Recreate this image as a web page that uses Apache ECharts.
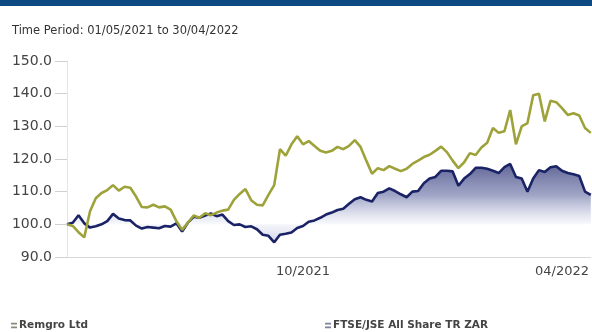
<!DOCTYPE html>
<html>
<head>
<meta charset="utf-8">
<script src="https://cdn.jsdelivr.net/npm/echarts@6/dist/echarts.min.js"></script>
<style>
html,body{margin:0;padding:0;background:#fff;}
#chart{width:592px;height:332px;}
</style>
</head>
<body>
<div id="chart"></div>
<script>
const titleText = 'Time Period: 01/05/2021 to 30/04/2022';
const seriesNames = ['Remgro Ltd', 'FTSE/JSE All Share TR ZAR'];
const yTicks = [90, 100, 110, 120, 130, 140, 150];
const xTickDates = ['2021-10-12', '2022-04-10'];
const xTickLabels = ['10/2021', '04/2022'];

const dates = [
'2021-05-01','2021-05-05','2021-05-09','2021-05-13','2021-05-17','2021-05-21','2021-05-25','2021-05-29',
'2021-06-02','2021-06-06','2021-06-10','2021-06-14','2021-06-18','2021-06-22','2021-06-26','2021-06-30',
'2021-07-04','2021-07-08','2021-07-12','2021-07-16','2021-07-20','2021-07-24','2021-07-28',
'2021-08-01','2021-08-05','2021-08-09','2021-08-13','2021-08-17','2021-08-21','2021-08-25','2021-08-29',
'2021-09-02','2021-09-06','2021-09-10','2021-09-14','2021-09-18','2021-09-22','2021-09-26','2021-09-30',
'2021-10-04','2021-10-08','2021-10-12','2021-10-16','2021-10-20','2021-10-24','2021-10-28',
'2021-11-01','2021-11-05','2021-11-09','2021-11-13','2021-11-17','2021-11-21','2021-11-25','2021-11-29',
'2021-12-03','2021-12-07','2021-12-11','2021-12-15','2021-12-19','2021-12-23','2021-12-27','2021-12-31',
'2022-01-04','2022-01-08','2022-01-12','2022-01-16','2022-01-20','2022-01-24','2022-01-28',
'2022-02-01','2022-02-05','2022-02-09','2022-02-13','2022-02-17','2022-02-21','2022-02-25',
'2022-03-01','2022-03-05','2022-03-09','2022-03-13','2022-03-17','2022-03-21','2022-03-25','2022-03-29',
'2022-04-02','2022-04-06','2022-04-10','2022-04-14','2022-04-18','2022-04-22','2022-04-26','2022-04-30'
];

const remgro = [
100, 99.5, 97.6, 96, 104, 108, 109.6, 110.5,
112, 110.3, 111.5, 111.2, 108.5, 105.3, 105.2, 106,
105.2, 105.5, 104.5, 101, 98.3, 100.5, 102.7,
102, 103.4, 102.8, 103.6, 104.2, 104.5, 107.5, 109.3,
110.8, 107.4, 106, 105.8, 109, 112, 123, 121,
124.5, 127, 124.5, 125.5, 124, 122.5, 122,
122.5, 123.7, 123, 124, 125.8, 123.7, 119.5, 115.5,
117.2, 116.6, 117.8, 117, 116.3, 117, 118.5, 119.5,
120.6, 121.3, 122.5, 123.8, 122.1, 119.5, 117.2,
119, 121.8, 121.2, 123.5, 125, 129.5, 128,
128.5, 135, 124.5, 130, 131, 139.5, 140, 131.5,
137.8, 137.4, 135.6, 133.5, 134, 133.3, 129.5, 128
];

const allShare = [
100, 100.5, 102.8, 100.3, 99, 99.4, 100, 101,
103.2, 101.8, 101.3, 101.2, 99.6, 98.7, 99.2, 99,
98.8, 99.5, 99.3, 100.3, 97.8, 100.5, 102.3,
102, 102.7, 103.3, 102.5, 103, 101, 99.8, 100,
99.2, 99.4, 98.5, 96.8, 96.5, 94.5, 96.8, 97.1,
97.5, 98.9, 99.5, 100.8, 101.2, 102, 103,
103.6, 104.4, 104.8, 106.3, 107.7, 108.3, 107.5, 107,
109.6, 110, 111, 110.2, 109.2, 108.3, 110, 110.2,
112.6, 114, 114.5, 116.4, 116.4, 116.2, 111.8,
114, 115.4, 117.3, 117.3, 117, 116.4, 115.7,
117.5, 118.5, 114.5, 114, 110, 114, 116.6, 116,
117.5, 117.8, 116.4, 115.7, 115.3, 114.8, 110, 109
];

function ts(s){ const p=s.split('-'); return Date.UTC(+p[0], +p[1]-1, +p[2]); }
function pairs(vals){ return dates.map((d,i)=>[ts(d), vals[i]]); }
const tickTs = xTickDates.map(ts);

const chart = echarts.init(document.getElementById('chart'), null, {renderer:'canvas'});
chart.setOption({
  animation: false,
  backgroundColor: '#ffffff',
  graphic: [{
    type: 'rect', left: 0, top: 0, z: 10,
    shape: {width: 592, height: 6},
    style: {fill: '#0d4a82'}
  }],
  title: {
    text: titleText, left: 7, top: 20,
    textStyle: {fontFamily: 'DejaVu Sans', fontSize: 11.5, fontWeight: 'normal', color: '#333'}
  },
  legend: [
    {data: [seriesNames[0]], left: 6, top: 315, itemWidth: 6, itemHeight: 6, itemGap: 0,
     icon: 'path://M0,0H10V3H0Z M0,6H10V9H0Z',
     itemStyle: {color: '#8a8a7a'},
     textStyle: {fontFamily: 'DejaVu Sans', fontWeight: 'bold', fontSize: 10.5, color: '#444', padding: [0,0,0,-3]}},
    {data: [seriesNames[1]], left: 320, top: 315, itemWidth: 6, itemHeight: 6, itemGap: 0,
     icon: 'path://M0,0H10V3H0Z M0,6H10V9H0Z',
     itemStyle: {color: '#7d80a0'},
     textStyle: {fontFamily: 'DejaVu Sans', fontWeight: 'bold', fontSize: 10.5, color: '#444', padding: [0,0,0,-3]}}
  ],
  grid: {left: 67, right: -4, top: 61, bottom: 75},
  xAxis: {
    type: 'value',
    min: ts(dates[0]), max: ts(dates[dates.length-1]),
    axisLine: {show: true, onZero: false, lineStyle: {color: '#d8d8d8', width: 1}},
    axisTick: {show: false},
    splitLine: {show: false},
    axisLabel: {
      customValues: tickTs,
      formatter: function(v){ const i = tickTs.indexOf(v); return i>=0 ? xTickLabels[i] : ''; },
      fontFamily: 'DejaVu Sans', fontSize: 13, color: '#444', margin: 8
    }
  },
  yAxis: {
    type: 'value', min: yTicks[0], max: yTicks[yTicks.length-1], interval: 10,
    axisLine: {show: true, lineStyle: {color: '#e6e6e6'}},
    axisTick: {show: true, length: 12, lineStyle: {color: '#d0d0d0'}},
    splitLine: {show: false},
    axisLabel: {
      formatter: v => v.toFixed(1),
      fontFamily: 'DejaVu Sans', fontSize: 14, color: '#444', margin: 15
    }
  },
  series: [
    {
      name: seriesNames[1], type: 'line', data: pairs(allShare),
      symbol: 'none', z: 2,
      lineStyle: {color: '#1b2367', width: 2.6},
      itemStyle: {color: '#1b2367'},
      areaStyle: {
        origin: 100,
        color: new echarts.graphic.LinearGradient(0, 0, 0, 1, [
          {offset: 0, color: 'rgba(28,36,105,1)'},
          {offset: 0.4, color: 'rgba(95,104,160,0.85)'},
          {offset: 0.76, color: 'rgba(235,237,246,0.6)'},
          {offset: 1, color: 'rgba(170,176,215,0.8)'}
        ])
      }
    },
    {
      name: seriesNames[0], type: 'line', data: pairs(remgro),
      symbol: 'none', z: 3,
      lineStyle: {color: '#9ea23a', width: 2.6},
      itemStyle: {color: '#9ea23a'}
    }
  ]
});
</script>
</body>
</html>
